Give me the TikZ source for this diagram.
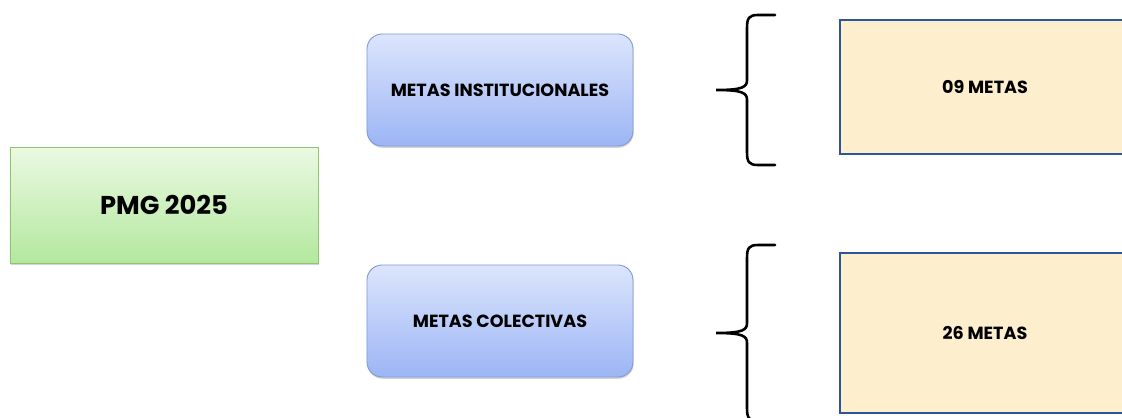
\documentclass[tikz,border=0pt]{standalone}
\usepackage{fontspec}
\setmainfont{Poppins}
\usetikzlibrary{positioning,shadows}

\definecolor{greentop}{HTML}{EBF9E2}
\definecolor{greenbot}{HTML}{B3E89E}
\definecolor{greenline}{HTML}{8DC66F}
\definecolor{bluetop}{HTML}{DCE5FC}
\definecolor{bluebot}{HTML}{9CB5F5}
\definecolor{blueline}{HTML}{7F9AD6}
\definecolor{metafill}{HTML}{FDEFCD}
\definecolor{metaline}{HTML}{2F5597}

\tikzset{
  pmgbox/.style={rectangle, draw=greenline, line width=0.8pt,
    top color=greentop, bottom color=greenbot,
    minimum width=9.24cm, minimum height=3.48cm,
    drop shadow={shadow xshift=0.5pt, shadow yshift=-1.5pt, opacity=0.35},
    font=\bfseries\fontsize{22}{26}\selectfont},
  tipobox/.style={rectangle, rounded corners=0.45cm, draw=blueline, line width=0.8pt,
    top color=bluetop, bottom color=bluebot,
    minimum width=7.98cm, minimum height=3.36cm,
    drop shadow={shadow xshift=0.5pt, shadow yshift=-1.5pt, opacity=0.35},
    font=\bfseries\fontsize{15}{18}\selectfont},
  metabox/.style={rectangle, draw=metaline, line width=2pt, fill=metafill,
    minimum width=8.7cm, font=\bfseries\fontsize{15}{18}\selectfont},
  llave/.style={draw, line width=2.2pt, line cap=round}
}

\begin{document}
\begin{tikzpicture}[x=0.03cm, y=-0.03cm]

  \useasboundingbox (0,0) rectangle (1122,417);

  \node[pmgbox] (pmg) at (164,205) {PMG 2025};

  \node[tipobox] (inst) at (500,90)  {METAS INSTITUCIONALES};
  \node[tipobox] (cole) at (500,321) {METAS COLECTIVAS};

  \node[metabox, minimum height=4.02cm] (nueve)     at (985,87)  {09 METAS};
  \node[metabox, minimum height=4.8cm]  (veintiseis) at (985,333) {26 METAS};

  % llaves
  \coordinate (ll1) at (716,90);
  \coordinate (ll2) at (716,333);
  \path[llave] (775,15) -- (758,15) .. controls (749,15) and (747,18) .. (747,28)
    -- (747,80) .. controls (747,87) and (743,90) .. (ll1)
    .. controls (743,90) and (747,93) .. (747,100)
    -- (747,152) .. controls (747,162) and (749,165) .. (758,165) -- (775,165);
  \path[llave] (775,245) -- (758,245) .. controls (749,245) and (747,248) .. (747,258)
    -- (747,323) .. controls (747,330) and (743,333) .. (ll2)
    .. controls (743,333) and (747,336) .. (747,343)
    -- (747,408) .. controls (747,418) and (749,421) .. (758,421) -- (775,421);

\end{tikzpicture}
\end{document}
